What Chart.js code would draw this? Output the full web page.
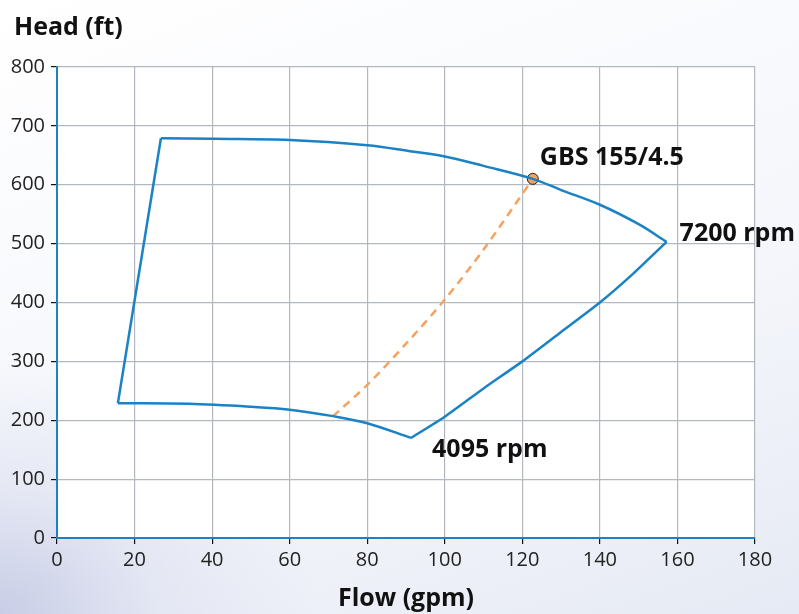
<!DOCTYPE html>
<html>
<head>
<meta charset="utf-8">
<script src="https://cdn.jsdelivr.net/npm/chart.js@4"></script>
<style>
    html, body { margin: 0; padding: 0; }
    body {
        width: 799px; height: 614px; overflow: hidden;
        background:
            radial-gradient(ellipse 320px 260px at 0px 614px, #c9cde6 0%, rgba(220,224,240,0.6) 50%, rgba(255,255,255,0) 100%),
            linear-gradient(160deg, #ffffff 0%, #f4f6fb 60%, #e6eaf4 100%);
    }
    #wrap { position: relative; width: 799px; height: 614px; }
</style>
</head>
<body>
<div id="wrap"><canvas id="pumpChart" width="799" height="614"></canvas></div>
<script>
// 7200 rpm curve (top)
const topFlow = [26.8, 40, 60, 80, 91, 100, 110, 122.7, 130, 140, 150, 157.2];
const topHead = [679, 678, 676, 667, 657, 648, 632, 610, 591, 566, 533, 503];

// right edge, 7200 rpm end down to 4095 rpm end
const rightFlow = [157.2, 148.6, 140, 130, 120, 110, 100, 91.3];
const rightHead = [503, 449, 400, 350, 300, 254, 206, 170];

// 4095 rpm curve (bottom)
const bottomFlow = [15.7, 34, 50, 60, 71.2, 80, 91.3];
const bottomHead = [229, 228, 223, 218, 207, 195, 170];

// left edge
const leftFlow = [15.7, 26.8];
const leftHead = [229, 679];

// system curve through duty point (dashed)
const sysFlow = [71.2, 80, 90, 100, 110, 122.7];
const sysHead = [207, 260, 330, 405, 490, 610];

// duty point
const dutyFlow = [122.7];
const dutyHead = [610];

const xTicks = [0, 20, 40, 60, 80, 100, 120, 140, 160, 180];
const yTicks = [0, 100, 200, 300, 400, 500, 600, 700, 800];

const BLUE = '#1b82c5';
const ORANGE = '#f4a25e';

function pts(xs, ys) {
    return xs.map((x, i) => ({ x: x, y: ys[i] }));
}

// white plot area + free text labels
const decorPlugin = {
    id: 'decor',
    beforeDraw(chart) {
        const { ctx, chartArea } = chart;
        ctx.save();
        ctx.fillStyle = '#ffffff';
        ctx.fillRect(chartArea.left, chartArea.top, chartArea.right - chartArea.left, chartArea.bottom - chartArea.top);
        ctx.restore();
    },
    afterDraw(chart) {
        const { ctx } = chart;
        const xs = chart.scales.x, ys = chart.scales.y;
        ctx.save();
        ctx.fillStyle = '#111';
        ctx.font = 'bold 25px "Open Sans"';
        ctx.textBaseline = 'middle';
        ctx.textAlign = 'left';
        ctx.fillText('Head (ft)', 14, 28);
        ctx.fillText('GBS 155/4.5', xs.getPixelForValue(dutyFlow[0]) + 7, ys.getPixelForValue(dutyHead[0]) - 21);
        ctx.fillText('7200 rpm', xs.getPixelForValue(topFlow[topFlow.length - 1]) + 13, ys.getPixelForValue(topHead[topHead.length - 1]) - 8);
        ctx.fillText('4095 rpm', xs.getPixelForValue(rightFlow[rightFlow.length - 1]) + 21, ys.getPixelForValue(rightHead[rightHead.length - 1]) + 12);
        ctx.restore();
    }
};

const lineStyle = {
    showLine: true,
    borderColor: BLUE,
    borderWidth: 2.5,
    pointRadius: 0,
    fill: false
};

new Chart(document.getElementById('pumpChart'), {
    type: 'scatter',
    data: {
        datasets: [
            Object.assign({ label: '7200 rpm', data: pts(topFlow, topHead), tension: 0.35 }, lineStyle),
            Object.assign({ label: 'right', data: pts(rightFlow, rightHead), tension: 0.2 }, lineStyle),
            Object.assign({ label: '4095 rpm', data: pts(bottomFlow, bottomHead), tension: 0.35 }, lineStyle),
            Object.assign({ label: 'left', data: pts(leftFlow, leftHead), tension: 0 }, lineStyle),
            {
                label: 'system',
                data: pts(sysFlow, sysHead),
                showLine: true,
                borderColor: ORANGE,
                borderWidth: 2.5,
                borderDash: [8, 6],
                pointRadius: 0,
                tension: 0.3,
                fill: false
            },
            {
                label: 'GBS 155/4.5',
                data: pts(dutyFlow, dutyHead),
                showLine: false,
                pointRadius: 5.5,
                pointBackgroundColor: ORANGE,
                pointBorderColor: '#222',
                pointBorderWidth: 1
            }
        ]
    },
    options: {
        responsive: false,
        animation: false,
        layout: { padding: { left: 0, right: 44, top: 67, bottom: 0 } },
        plugins: {
            legend: { display: false },
            tooltip: { enabled: false }
        },
        scales: {
            x: {
                type: 'linear',
                min: 0, max: 180,
                afterBuildTicks(scale) { scale.ticks = xTicks.map(v => ({ value: v })); },
                afterFit(scale) { scale.height = 76; },
                grid: { color: '#b3b7c0', lineWidth: 1.2, tickColor: '#111', tickLength: 6, drawOnChartArea: true },
                border: { color: BLUE, width: 2 },
                ticks: { color: '#222', font: { family: 'Open Sans', size: 20 }, padding: 4, maxRotation: 0 },
                title: { display: true, text: 'Flow (gpm)', color: '#111', font: { family: 'Open Sans', size: 25, weight: 'bold' }, padding: { top: 0, bottom: 0 } }
            },
            y: {
                type: 'linear',
                min: 0, max: 800,
                afterBuildTicks(scale) { scale.ticks = yTicks.map(v => ({ value: v })); },
                afterFit(scale) { scale.width = 57; },
                grid: { color: '#b3b7c0', lineWidth: 1.2, tickColor: '#111', tickLength: 6 },
                border: { color: BLUE, width: 2 },
                ticks: { color: '#222', font: { family: 'Open Sans', size: 20 }, padding: 6 }
            }
        }
    },
    plugins: [decorPlugin]
});
</script>
</body>
</html>
